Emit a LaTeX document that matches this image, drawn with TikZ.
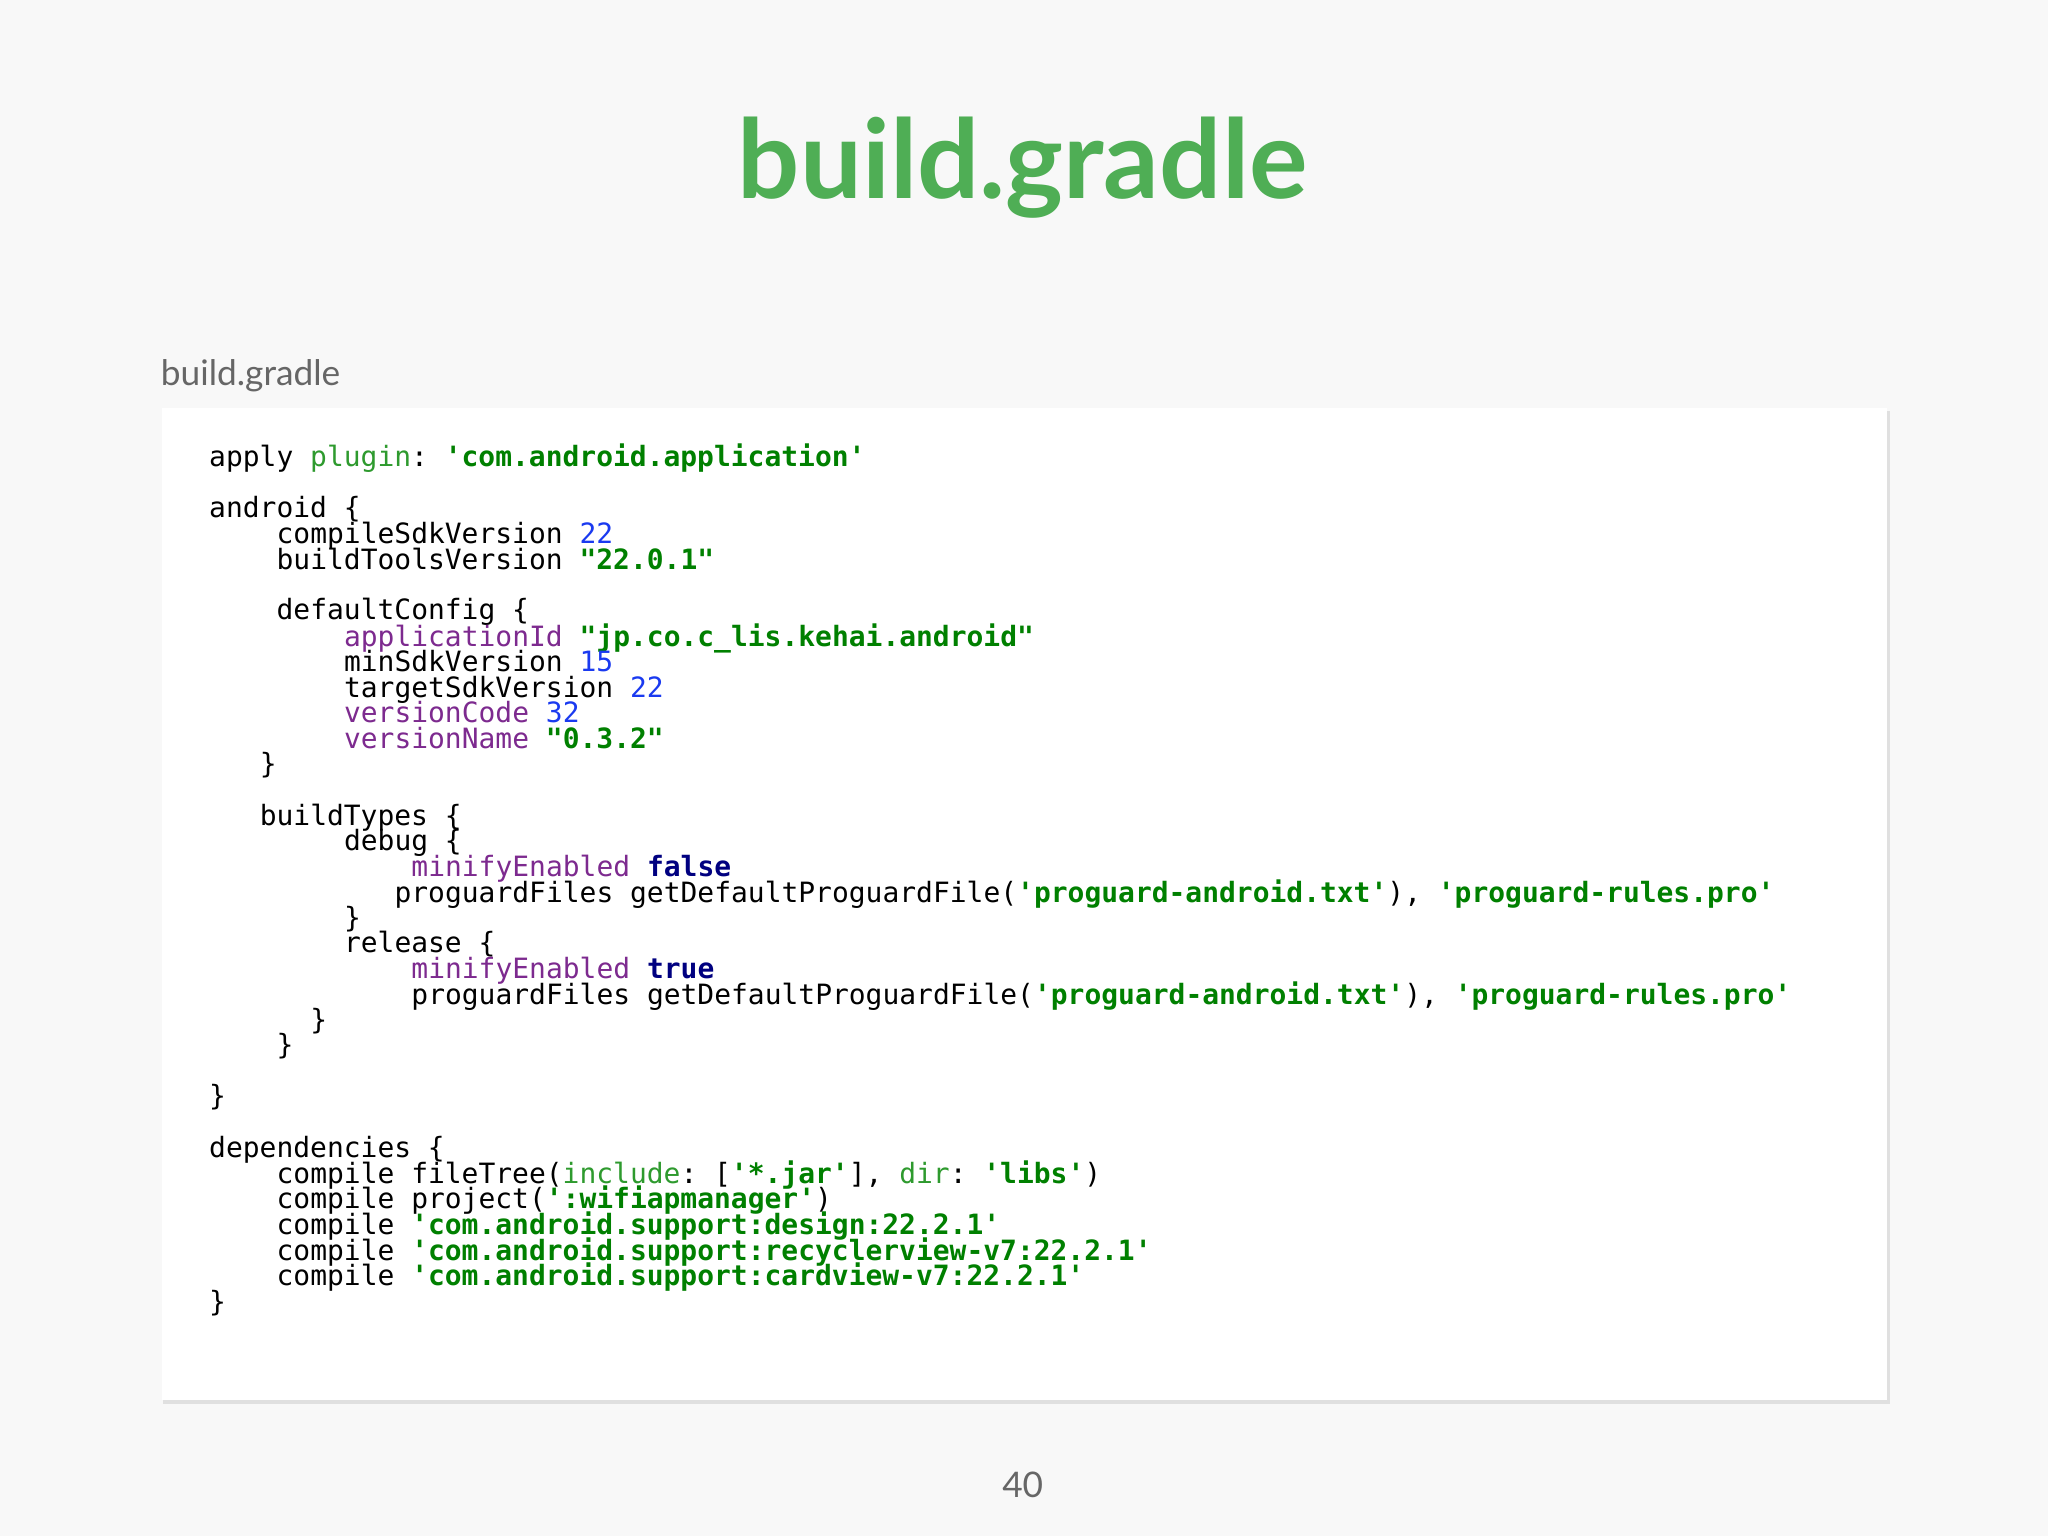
\documentclass[tikz,border=0pt]{standalone}
\usepackage{fontspec}
\setmainfont{Lato}
\setmonofont{DejaVu Sans Mono}
\definecolor{bg}{HTML}{F8F8F8}
\definecolor{ttl}{HTML}{4FAE55}
\definecolor{gstr}{HTML}{008000}
\definecolor{gkw}{HTML}{2E9A2E}
\definecolor{num}{HTML}{1A3AF0}
\definecolor{prop}{HTML}{7D2A8F}
\definecolor{kw}{HTML}{000080}
\definecolor{gry}{HTML}{666666}
\newcommand{\cStr}[1]{\textcolor{gstr}{\bfseries #1}}
\newcommand{\cNum}[1]{\textcolor{num}{#1}}
\newcommand{\cProp}[1]{\textcolor{prop}{#1}}
\newcommand{\cKw}[1]{\textcolor{kw}{\bfseries #1}}
\newcommand{\cGk}[1]{\textcolor{gkw}{#1}}
\newcommand{\cLn}[3]{\node[codeln] at ({160+12.9*#1},{#2+7}) {#3};}
\tikzset{codeln/.style={anchor=base west,inner sep=0pt,font=\ttfamily\fontsize{21.4}{22}\selectfont}}
\begin{document}
\begin{tikzpicture}[x=1pt,y=-1pt]
\fill[bg] (0,0) rectangle (1568,1176);
\useasboundingbox (0,0) rectangle (1568,1176);
\node[font=\bfseries\fontsize{84}{88}\selectfont,text=ttl] (title) at (783,128) {build.gradle};
\node[anchor=west,font=\fontsize{27}{30}\selectfont,text=gry,inner sep=0pt] (lbl) at (123,288) {build.gradle};
\fill[black!12] (125,315) rectangle (1447,1075);
\fill[white] (124,312) rectangle (1445,1072);
\cLn{0}{350}{apply \cGk{plugin}: \cStr{'com.android.application'}}
\cLn{0}{389}{android \{}
\cLn{4}{409}{compileSdkVersion \cNum{22}}
\cLn{4}{429}{buildToolsVersion \cStr{"22.0.1"}}
\cLn{4}{467}{defaultConfig \{}
\cLn{8}{488}{\cProp{applicationId} \cStr{"jp.co.c\_lis.kehai.android"}}
\cLn{8}{507}{minSdkVersion \cNum{15}}
\cLn{8}{527}{targetSdkVersion \cNum{22}}
\cLn{8}{546}{\cProp{versionCode} \cNum{32}}
\cLn{8}{566}{\cProp{versionName} \cStr{"0.3.2"}}
\cLn{3}{585}{\}}
\cLn{3}{625}{buildTypes \{}
\cLn{8}{644}{debug \{}
\cLn{12}{664}{\cProp{minifyEnabled} \cKw{false}}
\cLn{11}{684}{proguardFiles getDefaultProguardFile(\cStr{'proguard-android.txt'}), \cStr{'proguard-rules.pro'}}
\cLn{8}{703}{\}}
\cLn{8}{722}{release \{}
\cLn{12}{742}{\cProp{minifyEnabled} \cKw{true}}
\cLn{12}{762}{proguardFiles getDefaultProguardFile(\cStr{'proguard-android.txt'}), \cStr{'proguard-rules.pro'}}
\cLn{6}{781}{\}}
\cLn{4}{800}{\}}
\cLn{0}{839}{\}}
\cLn{0}{879}{dependencies \{}
\cLn{4}{899}{compile fileTree(\cGk{include}: [\cStr{'*.jar'}], \cGk{dir}: \cStr{'libs'})}
\cLn{4}{918}{compile project(\cStr{':wifiapmanager'})}
\cLn{4}{938}{compile \cStr{'com.android.support:design:22.2.1'}}
\cLn{4}{958}{compile \cStr{'com.android.support:recyclerview-v7:22.2.1'}}
\cLn{4}{977}{compile \cStr{'com.android.support:cardview-v7:22.2.1'}}
\cLn{0}{997}{\}}
\node[font=\fontsize{27}{30}\selectfont,text=gry] (pg) at (783,1137) {40};
\end{tikzpicture}
\end{document}
